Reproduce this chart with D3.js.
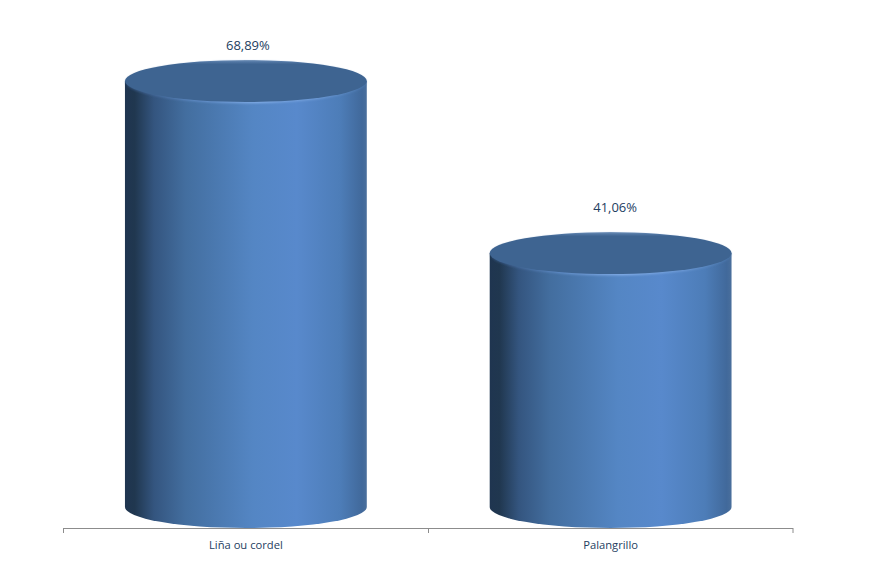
<!DOCTYPE html>
<html>
<head>
<meta charset="utf-8">
<script src="https://cdn.jsdelivr.net/npm/d3@7"></script>
<style>
body { margin: 0; background: #fff; }
</style>
</head>
<body>
<div id="chart"></div>
<script>
//chart data
var categories = ["Liña ou cordel", "Palangrillo"];
var values = [68.89, 41.06];
var valueLabels = ["68,89%", "41,06%"];

var svgWidth = 872;
var svgHeight = 576;

var svg = d3.select("#chart")
    .append("svg")
    .attr("width", svgWidth)
    .attr("height", svgHeight)
    .style("display", "block");

//scales, the band leaves a third of each step empty
var x = d3.scaleBand().domain(categories).range([63.5, 793]).paddingInner(0.337).paddingOuter(0.1685);
var y = d3.scaleLinear().domain([0, 68.89]).range([507, 81]);
var ry = 21;

//label nudges, the labels do not sit at the same distance from the lids
var labelDx = [2, 4.5];
var labelDy = [31, 41];

var defs = svg.append("defs");

//cylinder side shading
var side = defs.append("linearGradient").attr("id", "side");
[[0, "#1f3550"], [0.04, "#20374f"], [0.12, "#34557f"], [0.25, "#436e9f"], [0.53, "#5486c4"], [0.71, "#5889cc"], [0.89, "#4d7db8"], [0.98, "#41699b"], [1, "#4a6f9c"]]
    .forEach(function(s) {
        side.append("stop").attr("offset", s[0]).attr("stop-color", s[1]);
    });

//lighter rim under the lid
var rim = defs.append("linearGradient").attr("id", "rim");
[[0, "#2f4f78"], [0.3, "#6390cc"], [0.55, "#86b0ea"], [0.8, "#6f9cd8"], [1, "#4a77ad"]]
    .forEach(function(s) {
        rim.append("stop").attr("offset", s[0]).attr("stop-color", s[1]);
    });

//soft edge for the top of the lid
var lidEdge = defs.append("linearGradient").attr("id", "lidEdge").attr("x2", 0).attr("y2", 1);
[[0, "#7f9cc0"], [0.04, "#5378a5"], [0.1, "#3e6491"], [1, "#3e6491"]]
    .forEach(function(s) {
        lidEdge.append("stop").attr("offset", s[0]).attr("stop-color", s[1]);
    });

defs.append("filter").attr("id", "soft")
    .append("feGaussianBlur").attr("stdDeviation", 1.2);

var bars = svg.selectAll("g.bar")
    .data(categories)
    .enter()
    .append("g")
    .attr("class", "bar");

//body with rounded bottom
bars.append("path")
    .attr("fill", "url(#side)")
    .attr("d", function(d, i) {
        var l = x(d), w = x.bandwidth();
        return "M" + l + "," + y(values[i])
            + "V" + y(0)
            + "A" + (w / 2) + "," + ry + " 0 0 0 " + (l + w) + "," + y(0)
            + "V" + y(values[i]) + "Z";
    });

bars.append("ellipse")
    .attr("cx", function(d) { return x(d) + x.bandwidth() / 2; })
    .attr("cy", function(d, i) { return y(values[i]) + 1.2; })
    .attr("rx", function() { return x.bandwidth() / 2 - 1; })
    .attr("ry", ry)
    .attr("fill", "url(#rim)")
    .attr("filter", "url(#soft)");

bars.append("ellipse")
    .attr("cx", function(d) { return x(d) + x.bandwidth() / 2; })
    .attr("cy", function(d, i) { return y(values[i]); })
    .attr("rx", function() { return x.bandwidth() / 2; })
    .attr("ry", ry)
    .attr("fill", "url(#lidEdge)");

//value labels
svg.selectAll("text.value")
    .data(categories)
    .enter()
    .append("text")
    .attr("class", "value")
    .attr("x", function(d, i) { return x(d) + x.bandwidth() / 2 + labelDx[i]; })
    .attr("y", function(d, i) { return y(values[i]) - labelDy[i]; })
    .attr("text-anchor", "middle")
    .attr("font-family", "'Open Sans', sans-serif")
    .attr("font-size", "13px")
    .attr("fill", "#24405f")
    .text(function(d, i) { return valueLabels[i]; });

//x axis
var edges = [63.5, 428.5, 793];
svg.append("line")
    .attr("x1", edges[0]).attr("x2", edges[2])
    .attr("y1", 528.5).attr("y2", 528.5)
    .attr("stroke", "#8c8c8c");

svg.selectAll("line.tick")
    .data(edges)
    .enter()
    .append("line")
    .attr("class", "tick")
    .attr("x1", function(d) { return d; })
    .attr("x2", function(d) { return d; })
    .attr("y1", 528)
    .attr("y2", 533)
    .attr("stroke", "#8c8c8c");

svg.selectAll("text.cat")
    .data(categories)
    .enter()
    .append("text")
    .attr("class", "cat")
    .attr("x", function(d) { return x(d) + x.bandwidth() / 2; })
    .attr("y", 549)
    .attr("text-anchor", "middle")
    .attr("font-family", "'Open Sans', sans-serif")
    .attr("font-size", "11.2px")
    .attr("fill", "#24405f")
    .text(function(d) { return d; });
</script>
</body>
</html>
